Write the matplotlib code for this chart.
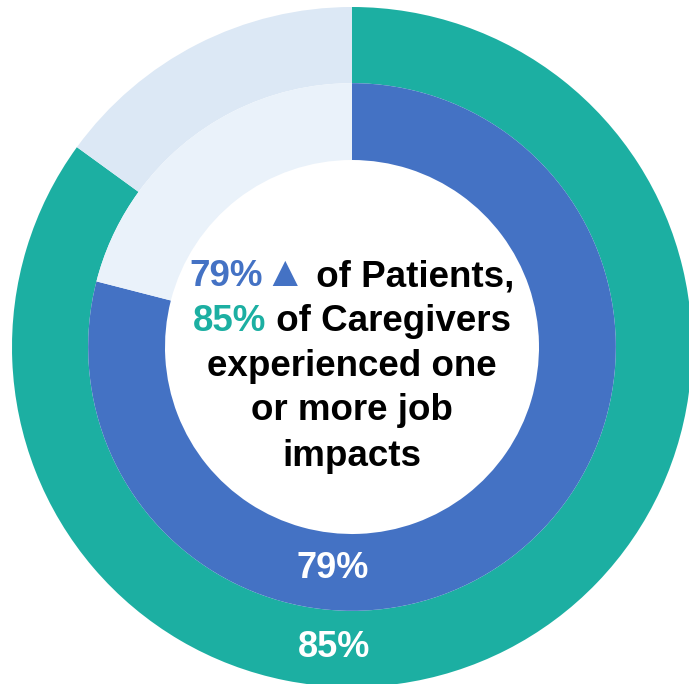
import matplotlib
matplotlib.use("Agg")
import matplotlib.pyplot as plt

# ring values (percent with one or more job impacts)
groups = ["Caregivers", "Patients"]
shares = [85, 79]
ring_labels = ["85%", "79%"]

# colours: filled share, remainder
caregiver_colors = ["#1CAFA2", "#DCE8F5"]
patient_colors = ["#4472C4", "#EAF2FA"]

teal = caregiver_colors[0]
blue = patient_colors[0]

# (text, colour, size) runs for each line of the centre caption
center_lines = [
    [("79%", blue, 26.5), ("\u25B2", blue, 31), (" of Patients,", "black", 26.5)],
    [("85%", teal, 26.5), (" of Caregivers", "black", 26.5)],
    [("experienced one", "black", 26.5)],
    [("or more job", "black", 26.5)],
    [("impacts", "black", 26.5)],
]

FONT = ["Liberation Sans", "DejaVu Sans"]

fig = plt.figure(figsize=(6.89, 6.84), dpi=100)
ax = fig.add_axes([0, 0, 1, 1])

outer_r, mid_r, hole_r = 1.0, 0.776, 0.55

ax.pie([shares[0], 100 - shares[0]], radius=outer_r, colors=caregiver_colors,
       startangle=90, counterclock=False,
       wedgeprops=dict(width=outer_r - mid_r, linewidth=0))
ax.pie([shares[1], 100 - shares[1]], radius=mid_r, colors=patient_colors,
       startangle=90, counterclock=False,
       wedgeprops=dict(width=mid_r - hole_r, linewidth=0))

ax.set_aspect("equal")
ax.set_xlim(-352 / 340, (689 - 352) / 340)
ax.set_ylim((347 - 684) / 340, 347 / 340)
ax.axis("off")

# value labels near the bottom of each ring
ax.text(-0.053, -0.885, ring_labels[0], color="white", fontsize=26,
        fontweight="bold", family=FONT, ha="center", va="center")
ax.text(-0.056, -0.652, ring_labels[1], color="white", fontsize=26,
        fontweight="bold", family=FONT, ha="center", va="center")

# centre caption, built piece by piece so each run keeps its own colour
renderer = fig.canvas.get_renderer()
line_y = [0.209, 0.077, -0.055, -0.184, -0.320]
for y, parts in zip(line_y, center_lines):
    texts = [ax.text(0, y, s, color=c, fontsize=fs, fontweight="bold",
                     family=FONT, ha="left", va="baseline")
             for s, c, fs in parts]
    widths = [t.get_window_extent(renderer).width for t in texts]
    cx, cy = ax.transData.transform((0.0, y - 0.03))
    x = cx - sum(widths) / 2
    for t, w in zip(texts, widths):
        t.set_position(ax.transData.inverted().transform((x, cy)))
        x += w

fig.savefig("out.png", dpi=100)
